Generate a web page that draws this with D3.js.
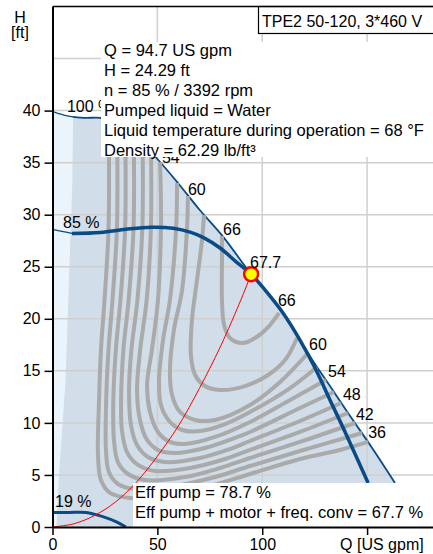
<!DOCTYPE html>
<html>
<head>
<meta charset="utf-8">
<script src="https://cdn.jsdelivr.net/npm/d3@7"></script>
<style>
body { margin: 0; background: #fff; }
svg { display: block; font-family: "Liberation Sans", Arial, sans-serif; }
</style>
</head>
<body>
<script>
var w = 433;
var h = 554;

// ticks and grid
var xTicks = [0, 50, 100, 150];
var yTicks = [0, 5, 10, 15, 20, 25, 30, 35, 40];
var xGrid = [50, 100, 150];
var yGrid = [5, 10, 15, 20, 25, 30, 35, 40, 45];

// all curves as [Q (US gpm), H (ft)]
var maxCurveLow = [[0, 39.9], [5, 39.6], [9.8, 39.4]];
var maxCurve = [[9.8, 39.4], [16, 39.3], [22.7, 39.3], [30, 38.8], [40, 37.4], [49.8, 35.4],
    [60, 33.0], [70, 30.5], [81.3, 27.9], [94.7, 24.29], [101.3, 22.77], [109.9, 20.56],
    [118.0, 17.96], [124.2, 15.95], [132.3, 13.54], [141.9, 10.66], [152.4, 7.59], [163.3, 4.23]];
var minFlowEdge = [[1.9, 0], [2.9, 4.4], [6.2, 14.0], [9.5, 33.3], [9.8, 39.4]];
var curve85Low = [[0, 28.6], [4.5, 28.4], [9.3, 28.2]];
var curve85 = [[9.3, 28.2], [22.9, 28.3], [35, 28.6], [47, 28.8], [57.5, 28.7], [66, 28.3],
    [72, 27.8], [79.9, 26.8], [88, 25.4], [94.7, 24.29], [101.3, 22.77], [109.9, 20.56],
    [118.0, 17.96], [125.2, 15.27], [132.3, 12.2], [139.5, 9.13], [150.5, 4.23]];
var curve19 = [[0, 1.4], [8, 1.4], [16, 1.4], [24, 1.0], [31, 0.45], [35, 0]];
var systemCurve = [[0, 0], [10, 0.3], [20, 1.1], [30, 2.4], [40, 4.3], [50, 6.8], [60, 9.7],
    [70, 13.3], [80, 17.3], [90, 21.9], [94.7, 24.29]];
var dutyPoint = [94.7, 24.29];

// efficiency contours (pump + motor + converter), %
var effLevels = [36, 39, 42, 45, 48, 51, 54, 57, 60, 63, 66];
var effContours = [
    [[26.9, 36.22], [26.7, 28.53], [24.8, 21.81], [23.1, 17.0], [22.2, 12.2], [21.7, 6.92], [23.1, 4.51], [27.4, 3.27], [37.0, 2.79], [56.0, 3.07], [75.1, 3.94], [94.2, 5.09], [118.0, 6.53], [137.1, 7.4], [150.5, 8.17]],
    [[30.9, 36.22], [30.7, 28.53], [28.6, 21.81], [26.7, 17.0], [25.6, 12.2], [25.5, 7.4], [26.9, 5.28], [31.2, 4.13], [39.3, 3.65], [58.4, 3.94], [77.5, 4.8], [94.2, 5.86], [118.0, 7.3], [147.6, 9.03]],
    [[34.8, 36.22], [34.6, 28.53], [32.4, 21.81], [30.2, 17.0], [29.0, 12.2], [29.3, 8.36], [31.2, 6.24], [36.0, 5.09], [44.1, 4.51], [63.2, 4.8], [79.9, 5.67], [94.2, 6.63], [118.0, 8.17], [144.3, 9.99]],
    [[38.8, 36.22], [38.6, 28.53], [36.3, 21.81], [33.8, 17.0], [32.7, 12.2], [33.1, 9.32], [35.5, 7.2], [40.8, 5.96], [48.9, 5.38], [65.6, 5.67], [82.3, 6.53], [94.2, 7.4], [118.0, 9.13], [140.9, 10.95]],
    [[43.0, 36.22], [42.8, 28.53], [40.5, 21.81], [37.6, 17.0], [36.5, 13.16], [37.4, 9.8], [40.3, 7.88], [45.5, 6.72], [53.6, 6.24], [70.3, 6.63], [84.6, 7.49], [94.2, 8.26], [118.0, 10.18], [137.6, 11.91]],
    [[47.0, 36.22], [46.9, 28.53], [44.9, 21.81], [41.8, 17.0], [40.3, 13.16], [41.7, 10.28], [45.1, 8.36], [50.3, 7.4], [58.4, 7.11], [72.7, 7.59], [87.0, 8.55], [94.2, 9.13], [118.0, 11.43], [134.2, 12.97]],
    [[51.3, 35.06], [51.7, 31.41], [51.7, 28.53], [50.3, 21.81], [47.4, 17.0], [45.1, 13.64], [46.5, 11.05], [50.3, 9.13], [56.0, 8.17], [63.2, 7.97], [77.5, 8.65], [94.2, 10.09], [113.3, 12.2], [130.4, 14.12]],
    [[59.4, 33.05], [58.9, 28.53], [56.0, 21.81], [52.7, 17.96], [50.8, 14.12], [51.7, 11.72], [56.0, 10.09], [61.8, 9.32], [70.3, 9.22], [82.3, 9.89], [94.2, 11.05], [113.3, 13.35], [126.1, 15.37]],
    [[64.6, 31.79], [64.1, 28.53], [61.8, 22.77], [57.9, 18.92], [56.0, 15.08], [57.0, 12.68], [60.8, 11.05], [68.0, 10.28], [77.5, 10.28], [94.2, 11.72], [108.5, 13.93], [121.4, 16.62]],
    [[72.2, 29.97], [71.3, 27.57], [68.9, 23.73], [66.5, 19.88], [66.0, 16.52], [68.0, 14.6], [72.7, 13.54], [79.9, 13.16], [91.8, 13.54], [102.8, 14.6], [110.9, 16.04], [116.6, 18.16]],
    [[80.8, 27.95], [80.8, 25.65], [80.8, 21.81], [81.8, 19.4], [84.6, 18.16], [90.8, 17.68], [98.0, 18.35], [103.7, 19.4], [108.0, 20.56]]
];

// labels: text and anchor [Q, H]
var curveLabels = [
    {text: "100 %", at: [6.9, 39.87]},
    {text: "85 %", at: [5.0, 28.72]},
    {text: "19 %", at: [1.2, 1.92]},
    {text: "67.7", at: [94.2, 24.88]},
    {text: "54", at: [52.2, 34.96]},
    {text: "60", at: [64.6, 31.89]},
    {text: "66", at: [81.3, 28.05]},
    {text: "66", at: [107.5, 21.23]},
    {text: "60", at: [122.3, 17.0]},
    {text: "54", at: [131.4, 14.41]},
    {text: "48", at: [138.5, 12.2]},
    {text: "42", at: [144.7, 10.28]},
    {text: "36", at: [150.5, 8.55]}
];

var titleText = "TPE2 50-120, 3*460 V";
var infoLines = ["Q = 94.7 US gpm", "H = 24.29 ft", "n = 85 % / 3392 rpm", "Pumped liquid = Water",
    "Liquid temperature during operation = 68 °F", "Density = 62.29 lb/ft³"];
var effLines = ["Eff pump = 78.7 %", "Eff pump + motor + freq. conv = 67.7 %"];

var blue = "#0a4b86";

var svg = d3.select("body")
    .append("svg")
    .attr("width", w)
    .attr("height", h);

var x = d3.scaleLinear()
    .domain([0, 182])
    .range([52.5, 434.2]);

var y = d3.scaleLinear()
    .domain([0, 50])
    .range([527, 6.5]);

var line = d3.line()
    .x(function(d) { return x(d[0]); })
    .y(function(d) { return y(d[1]); })
    .curve(d3.curveCatmullRom.alpha(0.5));

var straight = d3.line()
    .x(function(d) { return x(d[0]); })
    .y(function(d) { return y(d[1]); });

// operating range (light = whole envelope, darker = above min flow)
var envelope = maxCurveLow.concat(maxCurve.slice(1)).concat([[163.3, 0], [0, 0]]);
svg.append("path")
    .attr("d", straight(envelope) + "Z")
    .attr("fill", "#ecf4fb");

var opArea = minFlowEdge.concat(maxCurve.slice(1)).concat([[163.3, 0]]);
svg.append("path")
    .attr("d", straight(opArea) + "Z")
    .attr("fill", "#d1dde8");

// grid
svg.selectAll(".hgrid")
    .data(yGrid)
    .enter()
    .append("line")
    .attr("x1", x(0))
    .attr("x2", w)
    .attr("y1", function(d) { return y(d); })
    .attr("y2", function(d) { return y(d); })
    .attr("stroke", "#cfcfcf")
    .attr("stroke-width", 1.5);

svg.selectAll(".vgrid")
    .data(xGrid)
    .enter()
    .append("line")
    .attr("x1", function(d) { return x(d); })
    .attr("x2", function(d) { return x(d); })
    .attr("y1", y(50))
    .attr("y2", y(0))
    .attr("stroke", "#cfcfcf")
    .attr("stroke-width", 1.5);

// max curve (thin), under the contours
svg.append("path")
    .attr("d", line(maxCurveLow))
    .attr("fill", "none")
    .attr("stroke", blue)
    .attr("stroke-width", 1.3);
svg.append("path")
    .attr("d", line(maxCurve))
    .attr("fill", "none")
    .attr("stroke", blue)
    .attr("stroke-width", 1.8);

// efficiency contours
svg.selectAll(".eff")
    .data(effContours)
    .enter()
    .append("path")
    .attr("d", function(d) { return line(d); })
    .attr("fill", "none")
    .attr("stroke", "#aaaaaa")
    .attr("stroke-width", 4);

// 85 % curve
svg.append("path")
    .attr("d", line(curve85Low))
    .attr("fill", "none")
    .attr("stroke", blue)
    .attr("stroke-width", 1.3);
svg.append("path")
    .attr("d", line(curve85))
    .attr("fill", "none")
    .attr("stroke", blue)
    .attr("stroke-width", 3.5);

// 19 % curve
svg.append("path")
    .attr("d", line(curve19))
    .attr("fill", "none")
    .attr("stroke", blue)
    .attr("stroke-width", 3);

// system curve + duty point
svg.append("path")
    .attr("d", line(systemCurve))
    .attr("fill", "none")
    .attr("stroke", "#ff0000")
    .attr("stroke-width", 1);

svg.append("circle")
    .attr("cx", x(dutyPoint[0]))
    .attr("cy", y(dutyPoint[1]))
    .attr("r", 7)
    .attr("fill", "#ffff00")
    .attr("stroke", "#ff0000")
    .attr("stroke-width", 2.5);

svg.selectAll(".clabel")
    .data(curveLabels)
    .enter()
    .append("text")
    .attr("x", function(d) { return x(d.at[0]); })
    .attr("y", function(d) { return y(d.at[1]); })
    .attr("font-size", 16)
    .attr("fill", "#000")
    .text(function(d) { return d.text; });

// info boxes
svg.append("rect")
    .attr("x", 101)
    .attr("y", 42)
    .attr("width", w - 101)
    .attr("height", 115)
    .attr("fill", "#fff");

svg.selectAll(".info")
    .data(infoLines)
    .enter()
    .append("text")
    .attr("x", 104)
    .attr("y", function(d, i) { return 56 + i * 20; })
    .attr("font-size", 16.5)
    .text(function(d) { return d; });

svg.append("rect")
    .attr("x", 133)
    .attr("y", 483)
    .attr("width", w - 133)
    .attr("height", 44)
    .attr("fill", "#fff");

svg.selectAll(".effline")
    .data(effLines)
    .enter()
    .append("text")
    .attr("x", 135)
    .attr("y", function(d, i) { return 498 + i * 20; })
    .attr("font-size", 16.5)
    .text(function(d) { return d; });

// title box
svg.append("rect")
    .attr("x", 258.5)
    .attr("y", 6.5)
    .attr("width", 200)
    .attr("height", 27)
    .attr("fill", "#fff")
    .attr("stroke", "#000")
    .attr("stroke-width", 1.2);

svg.append("text")
    .attr("x", 262)
    .attr("y", 27)
    .attr("font-size", 16)
    .text(titleText);

// axes
var yAxis = svg.append("g")
    .attr("transform", "translate(" + x(0) + ",0)")
    .call(d3.axisLeft(y).tickValues(yTicks).tickSize(8).tickPadding(4).tickSizeOuter(0));

var xAxis = svg.append("g")
    .attr("transform", "translate(0," + y(0) + ")")
    .call(d3.axisBottom(x).tickValues(xTicks).tickSize(8).tickPadding(4).tickSizeOuter(0)
        .tickFormat(function(d) { return d === 150 ? "" : d; }));

[yAxis, xAxis].forEach(function(g) {
    g.attr("font-size", 16)
        .attr("font-family", "'Liberation Sans', Arial, sans-serif");
    g.select(".domain").attr("stroke", "#000").attr("stroke-width", 2);
    g.selectAll(".tick line").attr("stroke", "#000").attr("stroke-width", 1.5);
    g.selectAll(".tick text").attr("fill", "#000");
});

// frame top
svg.append("line")
    .attr("x1", x(0))
    .attr("x2", w)
    .attr("y1", y(50))
    .attr("y2", y(50))
    .attr("stroke", "#000")
    .attr("stroke-width", 1.5);

svg.append("text")
    .attr("x", x(150) - 27)
    .attr("y", 550)
    .attr("font-size", 16)
    .text("Q [US gpm]");

svg.append("text")
    .attr("x", 20)
    .attr("y", 23)
    .attr("text-anchor", "middle")
    .attr("font-size", 16)
    .text("H");

svg.append("text")
    .attr("x", 20)
    .attr("y", 38)
    .attr("text-anchor", "middle")
    .attr("font-size", 16)
    .text("[ft]");
</script>
</body>
</html>
